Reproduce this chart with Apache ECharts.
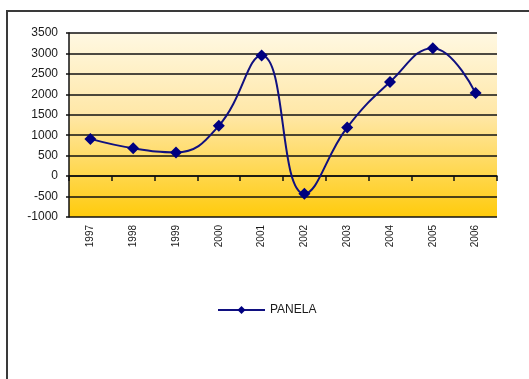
<!DOCTYPE html>
<html>
<head>
<meta charset="utf-8">
<script src="https://cdn.jsdelivr.net/npm/echarts@6/dist/echarts.min.js"></script>
<style>
  html, body { margin: 0; padding: 0; background: #ffffff; }
  #chart { width: 529px; height: 379px; }
</style>
</head>
<body>
<div id="chart"></div>
<script>
// Years on the category axis
const years = ['1997', '1998', '1999', '2000', '2001', '2002', '2003', '2004', '2005', '2006'];
// PANELA series values
const panela = [910, 680, 580, 1230, 2950, -430, 1190, 2300, 3130, 2030];
// Value axis range and step
const yMin = -1000;
const yMax = 3500;
const yStep = 500;

const chart = echarts.init(document.getElementById('chart'), null, { renderer: 'canvas' });

const labelFont = { fontFamily: 'Liberation Sans, Arial, sans-serif', color: '#1a1a1a' };

chart.setOption({
  animation: false,
  backgroundColor: '#ffffff',
  graphic: [{
    type: 'rect',
    shape: { x: 7, y: 11, width: 600, height: 500 },
    style: { fill: null, stroke: '#3a3a3a', lineWidth: 2 },
    silent: true,
    z: 100
  }],
  grid: {
    left: 69,
    right: 32,
    top: 33,
    bottom: 162,
    show: true,
    borderWidth: 0,
    backgroundColor: new echarts.graphic.LinearGradient(0, 0, 0, 1, [
      { offset: 0, color: '#fff8e2' },
      { offset: 0.45, color: '#ffe7a6' },
      { offset: 1, color: '#ffcb0c' }
    ])
  },
  legend: {
    left: 217,
    top: 304,
    padding: 0,
    itemWidth: 47,
    itemHeight: 10,
    itemGap: 4,
    data: ['PANELA'],
    textStyle: Object.assign({ fontSize: 12 }, labelFont)
  },
  xAxis: {
    type: 'category',
    data: years,
    boundaryGap: true,
    axisLine: { onZero: true, lineStyle: { color: '#111111', width: 1.5 } },
    axisTick: { show: true, length: 5, lineStyle: { color: '#111111', width: 1.5 } },
    axisLabel: Object.assign({ rotate: 90, margin: 8, fontSize: 10 }, labelFont),
    splitLine: { show: false }
  },
  yAxis: {
    type: 'value',
    min: yMin,
    max: yMax,
    interval: yStep,
    axisLine: { show: true, lineStyle: { color: '#111111', width: 1.5 } },
    axisTick: { show: true, length: 3, lineStyle: { color: '#111111', width: 1.5 } },
    axisLabel: Object.assign({ margin: 11, fontSize: 12, formatter: (v) => String(v) }, labelFont),
    splitLine: { show: true, lineStyle: { color: '#111111', width: 1.5 } }
  },
  series: [{
    name: 'PANELA',
    type: 'line',
    data: panela,
    smooth: 0.45,
    symbol: 'diamond',
    symbolSize: 12,
    lineStyle: { color: '#101080', width: 2 },
    itemStyle: { color: '#000080' },
    z: 5
  }]
});
</script>
</body>
</html>
